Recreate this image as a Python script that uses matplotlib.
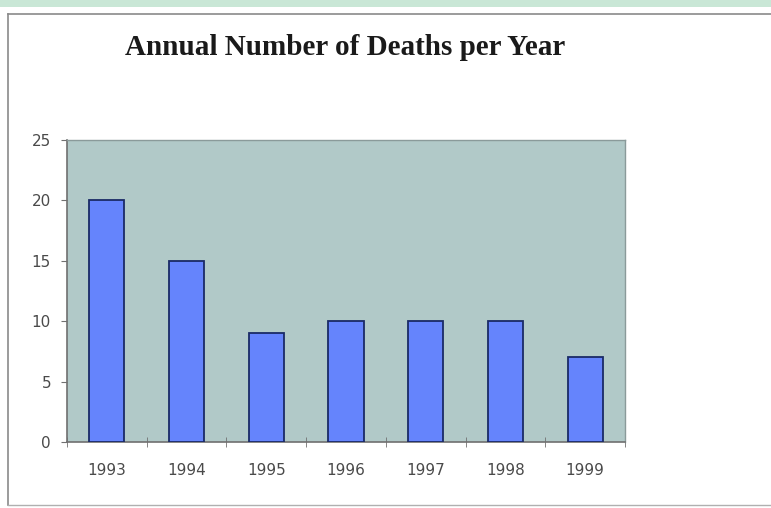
import matplotlib.pyplot as plt
from matplotlib.patches import Rectangle
from matplotlib.lines import Line2D
import numpy as np

years = ["1993", "1994", "1995", "1996", "1997", "1998", "1999"]
deaths = [20, 15, 9, 10, 10, 10, 7]
y_ticks = [0, 5, 10, 15, 20, 25]

fig = plt.figure(figsize=(7.71, 5.08), dpi=100)
fig.patch.set_facecolor("white")

# green strip at the top and the chart frame
fig.patches.append(Rectangle((0, 1 - 7 / 508), 1, 7 / 508, transform=fig.transFigure,
                             facecolor="#c9e7d6", edgecolor="none", zorder=0))
fig.lines.append(Line2D([8 / 771, 1], [1 - 14 / 508, 1 - 14 / 508], transform=fig.transFigure,
                        color="#8a8a8a", lw=1.2))
fig.lines.append(Line2D([8 / 771, 8 / 771], [1 - 14 / 508, 1 - 505 / 508], transform=fig.transFigure,
                        color="#8a8a8a", lw=1.2))
fig.lines.append(Line2D([8 / 771, 1], [1 - 505 / 508, 1 - 505 / 508], transform=fig.transFigure,
                        color="#b0b0b0", lw=1.0))

ax = fig.add_axes([67 / 771, 1 - 442 / 508, (625 - 67) / 771, (442 - 140) / 508])
ax.set_facecolor("#b1c9c8")

x = np.arange(len(years))
ax.bar(x, deaths, width=0.44, color="#6584fc", edgecolor="#1a2a66", linewidth=1.3, zorder=3)

ax.set_xlim(-0.5, len(years) - 0.5)
ax.set_ylim(0, 25)
ax.set_yticks(y_ticks)
ax.set_yticklabels([str(v) for v in y_ticks], color="#4a4a4a", fontsize=11, family="DejaVu Sans")
ax.set_xticks(x)
ax.set_xticklabels(years, color="#4a4a4a", fontsize=11, family="DejaVu Sans")
ax.tick_params(axis="x", length=0, pad=15)
ax.tick_params(axis="y", length=4, color="#707070", pad=7.5)
ax.set_xticks(np.arange(len(years) + 1) - 0.5, minor=True)
ax.tick_params(axis="x", which="minor", length=7, color="#707070", direction="inout")

for side in ["left", "bottom"]:
    ax.spines[side].set_color("#707070")
    ax.spines[side].set_linewidth(1.2)
for side in ["top", "right"]:
    ax.spines[side].set_color("#8a9a9a")
    ax.spines[side].set_linewidth(1.0)

fig.text(0.4475, 1 - 55 / 508, "Annual Number of Deaths per Year", ha="center", va="baseline",
         fontsize=21, fontweight="bold", family="Liberation Serif", color="#1a1a1a")

fig.savefig("out.png", dpi=100)
